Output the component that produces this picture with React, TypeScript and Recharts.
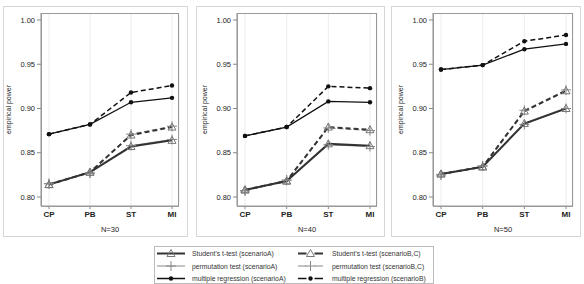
import React from "react"
import { LineChart, Line, XAxis, YAxis, CartesianGrid } from "recharts"

const methods = ["CP", "PB", "ST", "MI"]
const yTicks = [0.8, 0.85, 0.9, 0.95, 1.0]

// N=30
const tTestA30 = [0.814, 0.828, 0.857, 0.864]
const permA30 = [0.815, 0.827, 0.858, 0.865]
const regA30 = [0.871, 0.882, 0.907, 0.912]
const tTestB30 = [0.814, 0.828, 0.870, 0.879]
const permB30 = [0.815, 0.827, 0.871, 0.880]
const regB30 = [0.871, 0.882, 0.918, 0.926]

// N=40
const tTestA40 = [0.808, 0.818, 0.860, 0.858]
const permA40 = [0.807, 0.819, 0.859, 0.857]
const regA40 = [0.869, 0.879, 0.908, 0.907]
const tTestB40 = [0.808, 0.818, 0.879, 0.876]
const permB40 = [0.807, 0.819, 0.878, 0.875]
const regB40 = [0.869, 0.879, 0.925, 0.923]

// N=50
const tTestA50 = [0.826, 0.834, 0.883, 0.900]
const permA50 = [0.825, 0.835, 0.882, 0.900]
const regA50 = [0.944, 0.949, 0.967, 0.973]
const tTestB50 = [0.826, 0.834, 0.897, 0.920]
const permB50 = [0.825, 0.835, 0.898, 0.921]
const regB50 = [0.944, 0.949, 0.976, 0.983]

const buildRows = (tA: number[], pA: number[], rA: number[], tB: number[], pB: number[], rB: number[]) =>
  methods.map((m, i) => ({ m, tA: tA[i], pA: pA[i], rA: rA[i], tB: tB[i], pB: pB[i], rB: rB[i] }))

const FONT = "'Liberation Sans', Arial, sans-serif"

const Triangle = (props: any) => {
  const { cx, cy } = props
  if (cx == null || cy == null) return null
  return (
    <path
      d={`M${cx},${cy - 4} L${cx + 4},${cy + 3} L${cx - 4},${cy + 3} Z`}
      fill="none"
      stroke="#777"
      strokeWidth={1}
    />
  )
}

const Plus = (props: any) => {
  const { cx, cy } = props
  if (cx == null || cy == null) return null
  return (
    <g stroke="#888" strokeWidth={1}>
      <line x1={cx - 5} y1={cy} x2={cx + 5} y2={cy} />
      <line x1={cx} y1={cy - 5} x2={cx} y2={cy + 5} />
    </g>
  )
}

const Dot = (props: any) => {
  const { cx, cy } = props
  if (cx == null || cy == null) return null
  return <circle cx={cx} cy={cy} r={2.2} fill="#111" />
}

const panels = [
  { label: "N=30", rows: buildRows(tTestA30, permA30, regA30, tTestB30, permB30, regB30), left: 0, width: 181, frame: [3, 188] },
  { label: "N=40", rows: buildRows(tTestA40, permA40, regA40, tTestB40, permB40, regB40), left: 196, width: 183, frame: [196, 385] },
  { label: "N=50", rows: buildRows(tTestA50, permA50, regA50, tTestB50, permB50, regB50), left: 392, width: 183, frame: [391, 581] },
]

const PLOT_TOP = 13
const PLOT_BOTTOM = 206
const Y_AXIS_W = 41
const CHART_H = 240

function Panel({ p }: { p: (typeof panels)[number] }) {
  return (
    <>
      <div
        style={{
          position: "absolute",
          left: p.frame[0],
          top: 6,
          width: p.frame[1] - p.frame[0],
          height: 231,
          border: "1px solid #d6d6d6",
          boxSizing: "border-box",
        }}
      />
      <div style={{ position: "absolute", left: p.left, top: 0 }}>
        <LineChart
          width={p.width}
          height={CHART_H}
          data={p.rows}
          margin={{ top: PLOT_TOP, right: 2, bottom: 0, left: 0 }}
        >
          <CartesianGrid horizontal={false} stroke="#ececec" />
          <XAxis
            dataKey="m"
            padding={{ left: 8, right: 7 }}
            height={CHART_H - PLOT_BOTTOM}
            tickSize={3}
            tickLine={{ stroke: "#888" }}
            axisLine={{ stroke: "#999" }}
            tick={{ fontSize: 8, fontWeight: 700, fill: "#222", fontFamily: FONT }}
            label={{ value: p.label, position: "insideBottom", offset: 8, fontSize: 7.5, fill: "#222", fontFamily: FONT }}
          />
          <YAxis
            width={Y_AXIS_W}
            domain={[0.7898, 1.0079]}
            ticks={yTicks}
            tickFormatter={(v: number) => v.toFixed(2)}
            tickSize={4}
            tickLine={{ stroke: "#888" }}
            axisLine={{ stroke: "#999" }}
            tick={{ fontSize: 7.5, fill: "#222", fontFamily: FONT }}
            label={{
              value: "empirical power",
              angle: -90,
              position: "insideLeft",
              offset: 9,
              fontSize: 7,
              fill: "#222",
              fontFamily: FONT,
              style: { textAnchor: "middle" },
            }}
          />
          <Line dataKey="pA" stroke="#888" strokeWidth={1} dot={<Plus />} isAnimationActive={false} />
          <Line dataKey="pB" stroke="#888" strokeWidth={1} strokeDasharray="5 3" dot={<Plus />} isAnimationActive={false} />
          <Line dataKey="tB" stroke="#333" strokeWidth={2} strokeDasharray="5 3" dot={<Triangle />} isAnimationActive={false} />
          <Line dataKey="tA" stroke="#333" strokeWidth={2} dot={<Triangle />} isAnimationActive={false} />
          <Line dataKey="rB" stroke="#111" strokeWidth={1.5} strokeDasharray="5 3" dot={<Dot />} isAnimationActive={false} />
          <Line dataKey="rA" stroke="#111" strokeWidth={1.3} dot={<Dot />} isAnimationActive={false} />
        </LineChart>
      </div>
      {/* plot frame */}
      <div
        style={{
          position: "absolute",
          left: p.left + Y_AXIS_W,
          top: PLOT_TOP,
          width: p.width - Y_AXIS_W - 2,
          height: PLOT_BOTTOM - PLOT_TOP + 1,
          border: "1px solid #999",
          boxSizing: "border-box",
          pointerEvents: "none",
        }}
      />
    </>
  )
}

const legendItems = [
  { text: "Student's t-test (scenarioA)", stroke: "#333", width: 2, dash: false, marker: "tri" },
  { text: "Student's t-test (scenarioB,C)", stroke: "#333", width: 2, dash: true, marker: "tri" },
  { text: "permutation test (scenarioA)", stroke: "#888", width: 1, dash: false, marker: "plus" },
  { text: "permutation test (scenarioB,C)", stroke: "#888", width: 1, dash: true, marker: "plus" },
  { text: "multiple regression (scenarioA)", stroke: "#111", width: 1.5, dash: false, marker: "dot" },
  { text: "multiple regression (scenarioB)", stroke: "#111", width: 1.5, dash: true, marker: "dot" },
]

function LegendMarker({ kind, cx, cy }: { kind: string; cx: number; cy: number }) {
  if (kind === "tri") return <Triangle cx={cx} cy={cy} />
  if (kind === "plus") return <Plus cx={cx} cy={cy} />
  return <Dot cx={cx} cy={cy} />
}

function SharedLegend() {
  return (
    <svg style={{ position: "absolute", left: 154, top: 246 }} width={280} height={38}>
      <rect x={0.5} y={0.5} width={279} height={37} fill="#fff" stroke="#bbb" />
      {legendItems.map((it, i) => {
        const col = i % 2
        const row = Math.floor(i / 2)
        const y = 7.5 + row * 12.5
        const x0 = col === 0 ? 3 : 144
        const x1 = col === 0 ? 31 : 169
        const cx = (x0 + x1) / 2
        const tx = col === 0 ? 38 : 178
        return (
          <g key={it.text}>
            {it.dash ? (
              <>
                <line x1={x0} y1={y} x2={cx - 4} y2={y} stroke={it.stroke} strokeWidth={it.width} />
                <line x1={cx + 4} y1={y} x2={x1} y2={y} stroke={it.stroke} strokeWidth={it.width} />
              </>
            ) : (
              <line x1={x0} y1={y} x2={x1} y2={y} stroke={it.stroke} strokeWidth={it.width} />
            )}
            <LegendMarker kind={it.marker} cx={cx} cy={y} />
            <text x={tx} y={y + 2.5} fontSize={6.8} fill="#333" fontFamily={FONT}>
              {it.text}
            </text>
          </g>
        )
      })}
    </svg>
  )
}

export default function App() {
  return (
    <div style={{ position: "absolute", left: 0, top: 0, width: 584, height: 284, background: "#fff", overflow: "hidden" }}>
      {panels.map((p) => (
        <Panel key={p.label} p={p} />
      ))}
      <SharedLegend />
    </div>
  )
}
